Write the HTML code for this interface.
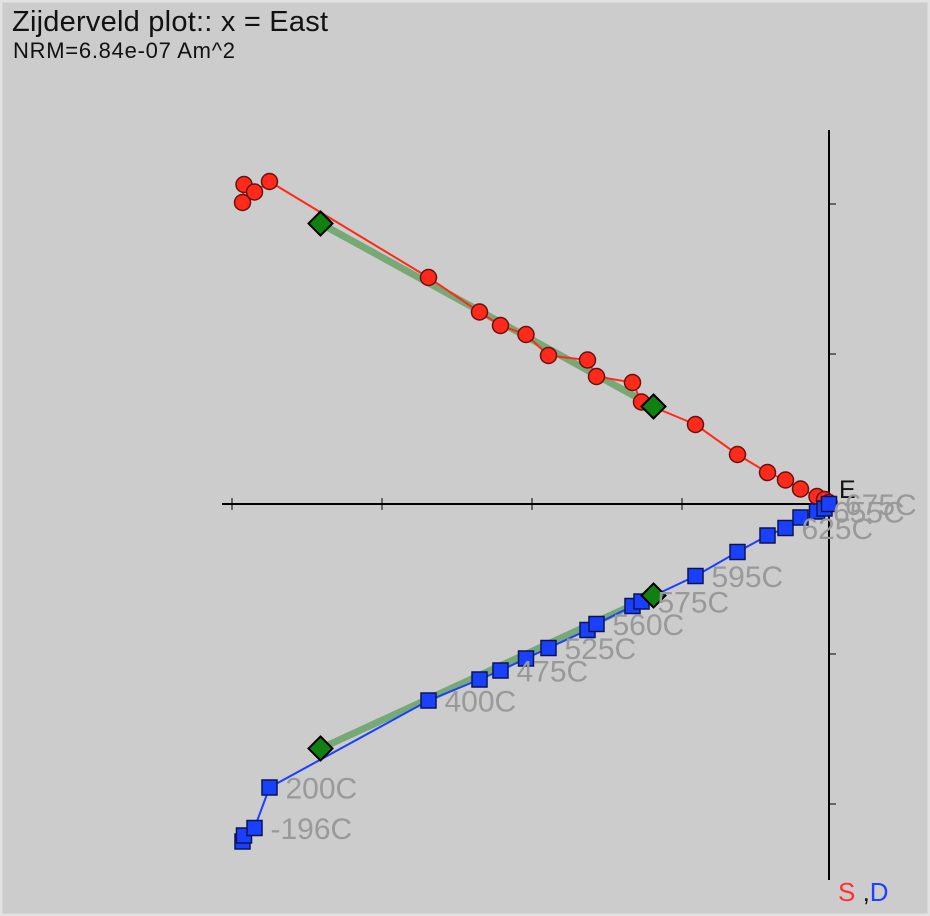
<!DOCTYPE html>
<html><head><meta charset="utf-8"><style>
html,body{margin:0;padding:0;background:#cccccc;}
svg{display:block;}
</style></head><body>
<svg id="chart" width="930" height="916" xmlns="http://www.w3.org/2000/svg" font-family="Liberation Sans, DejaVu Sans, sans-serif">
<rect x="0" y="0" width="930" height="916" fill="#cccccc"/>
<rect x="1" y="1" width="928" height="914" fill="none" stroke="#e2e2e2" stroke-width="3"/>
<text x="12" y="31" font-size="29" fill="#111" textLength="316">Zijderveld plot:: x = East</text>
<text x="13" y="58" font-size="22" fill="#111" textLength="222">NRM=6.84e-07 Am^2</text>
<g id="axes"></g>
<g id="fits"></g>
<g id="lines"></g>
<g id="marks"></g>
<g id="labels"></g>
<text x="838" y="901" font-size="26"><tspan fill="#ff3030">S</tspan><tspan fill="#111"> ,</tspan><tspan fill="#2040ff">D</tspan></text>
</svg>
<script>
const east = [-3.91,-3.90,-3.83,-3.73,-2.67,-2.33,-2.19,-2.02,-1.87,-1.61,-1.55,-1.31,-1.25,-0.89,-0.61,-0.41,-0.29,-0.19,-0.08,-0.03,0.00];
const north = [2.01,2.13,2.08,2.15,1.51,1.28,1.19,1.13,0.99,0.96,0.85,0.81,0.68,0.53,0.33,0.21,0.16,0.10,0.05,0.03,0.01];
const down = [2.25,2.21,2.16,1.89,1.31,1.17,1.11,1.03,0.96,0.84,0.80,0.68,0.65,0.48,0.32,0.21,0.16,0.09,0.05,0.03,0.00];
const stepLabels = ["","","-196C","200C","400C","","475C","","525C","","560C","","575C","595C","","","625C","","655C","","675C"];
const fitEast = [-3.39,-1.17];
const fitNorth = [1.87,0.65];
const fitDown = [1.63,0.61];
const xTicks = [-4,-3,-2,-1];
const yTicks = [-2,-1,1,2];

const X0=829, Y0=504, U=150;
const sx = v => X0 + v*U;
const syN = v => Y0 - v*U;
const syD = v => Y0 + v*U;
const NS="http://www.w3.org/2000/svg";
function mk(tag, attrs, parent){const e=document.createElementNS(NS,tag);for(const k in attrs)e.setAttribute(k,attrs[k]);parent.appendChild(e);return e;}
const axes=document.getElementById('axes'), fits=document.getElementById('fits'), lines=document.getElementById('lines'), marks=document.getElementById('marks'), labels=document.getElementById('labels');

let a=mk('line',{x1:222,y1:Y0,x2:835,y2:Y0,stroke:'#000','stroke-width':2},axes);


a=mk('line',{x1:X0,y1:130,x2:X0,y2:880,stroke:'#000','stroke-width':2},axes);


xTicks.forEach(t=>{const l=mk('line',{x1:sx(t)+3,y1:Y0-6,x2:sx(t)+3,y2:Y0+6,stroke:'#000','stroke-width':1},axes);

});
yTicks.forEach(t=>{const l=mk('line',{x1:X0,y1:Y0-t*U,x2:X0+7,y2:Y0-t*U,stroke:'#000','stroke-width':1},axes);

});
let e=mk('text',{x:839,y:498,'font-size':25,fill:'#111'},axes);e.textContent='E';



let f=mk('line',{x1:sx(fitEast[0]),y1:syN(fitNorth[0]),x2:sx(fitEast[1]),y2:syN(fitNorth[1]),stroke:'#60a060','stroke-width':7,'stroke-opacity':0.8},fits);


f=mk('line',{x1:sx(fitEast[0]),y1:syD(fitDown[0]),x2:sx(fitEast[1]),y2:syD(fitDown[1]),stroke:'#60a060','stroke-width':7,'stroke-opacity':0.8},fits);



let p=mk('polyline',{points:east.map((v,i)=>sx(v)+','+syN(north[i])).join(' '),fill:'none',stroke:'#ff2a1a','stroke-width':2},lines);


p=mk('polyline',{points:east.map((v,i)=>sx(v)+','+syD(down[i])).join(' '),fill:'none',stroke:'#1a40ff','stroke-width':2},lines);



east.forEach((v,i)=>{
  const c=mk('circle',{cx:sx(v),cy:syN(north[i]),r:8,fill:'#ff2a1a',stroke:'#6a1010','stroke-width':1.5},marks);
  
  
  const s=mk('rect',{x:sx(v)-7.5,y:syD(down[i])-7.5,width:15,height:15,fill:'#1a40ff',stroke:'#0a1550','stroke-width':1.5},marks);
  
  
  if(stepLabels[i]){
    const t=mk('text',{x:sx(v)+16,y:syD(down[i])+11,'font-size':30,fill:'#999'},labels);
    t.textContent=stepLabels[i];
    
    
  }
});
fitEast.forEach((v,i)=>{
  [syN(fitNorth[i]),syD(fitDown[i])].forEach(y=>{
    const d=mk('polygon',{points:`${sx(v)},${y-12} ${sx(v)+12},${y} ${sx(v)},${y+12} ${sx(v)-12},${y}`,fill:'#108010',stroke:'#000','stroke-width':2},marks);
    
    
  });
});
</script>
</body></html>
